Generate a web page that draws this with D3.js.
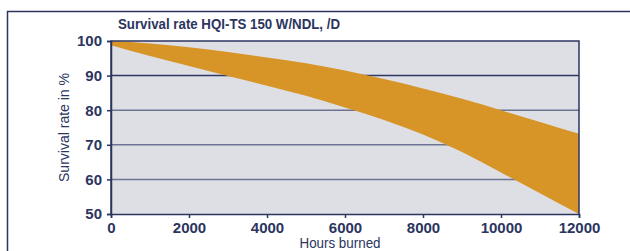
<!DOCTYPE html>
<html>
<head>
<meta charset="utf-8">
<script src="https://cdn.jsdelivr.net/npm/d3@7"></script>
<style>
  html, body { margin: 0; padding: 0; background: #fff; }
  svg { display: block; }
  text { font-family: "Liberation Sans Narrow", "Arial Narrow", "Liberation Sans", Arial, sans-serif; fill: #2b3560; }
</style>
</head>
<body>
<div id="chart"></div>
<script>
const title = 'Survival rate HQI-TS 150 W/NDL, /D';
const hours = [0, 1000, 2000, 3000, 4000, 5000, 6000, 7000, 8000, 9000, 10000, 11000, 12000];
const upper = [100, 99.3, 98.2, 96.8, 95.2, 93.6, 91.5, 89.0, 86.3, 83.3, 80.0, 76.6, 73.2];
const lower = [98.8, 95.7, 92.8, 89.9, 87.1, 84.2, 80.8, 77.2, 73.0, 67.9, 62.0, 56.0, 50.0];
const xTicks = [0, 2000, 4000, 6000, 8000, 10000, 12000];
const yTicks = [50, 60, 70, 80, 90, 100];

const W = 630, H = 251;
const M = { top: 41, right: 51, bottom: 37, left: 111 };
const iW = W - M.left - M.right, iH = H - M.top - M.bottom;
const navy = '#2b3560';

const svg = d3.select('#chart').append('svg').attr('width', W).attr('height', H);

// outer frame (runs off the right and bottom edges)
svg.append('path').attr('d', `M7.5,${H + 5}V11.5H${W + 5}`)
  .attr('fill', 'none').attr('stroke', navy).attr('stroke-width', 1.5);

const g = svg.append('g').attr('transform', `translate(${M.left},${M.top})`);
const x = d3.scaleLinear().domain([0, 12000]).range([0, iW]);
const y = d3.scaleLinear().domain([50, 100]).range([iH, 0]);

g.append('rect').attr('width', iW).attr('height', iH).attr('fill', '#dedfe5');

// gridlines
yTicks.filter(v => v > 50 && v < 100).forEach(v => {
  g.append('line').attr('x1', 0).attr('x2', iW).attr('y1', y(v)).attr('y2', y(v))
    .attr('stroke', v === 90 ? '#2e3862' : '#6f7492').attr('stroke-width', 1.5);
});

// band
const data = hours.map((h, i) => ({ h, u: upper[i], l: lower[i] }));
const area = d3.area().x(d => x(d.h)).y0(d => y(d.l)).y1(d => y(d.u)).curve(d3.curveMonotoneX);
g.append('path').datum(data).attr('d', area).attr('fill', '#d79427');

// plot frame
g.append('path').attr('d', `M0,${iH}V0H${iW}V${iH}`)
  .attr('fill', 'none').attr('stroke', navy).attr('stroke-width', 1.5);

// axes
const ax = g.append('g').attr('transform', `translate(0,${iH})`)
  .call(d3.axisBottom(x).tickValues(xTicks).tickSize(4).tickPadding(4).tickFormat(d3.format('d')));
const ay = g.append('g')
  .call(d3.axisLeft(y).tickValues(yTicks).tickSize(4).tickPadding(5));
[ax, ay].forEach(a => {
  a.select('.domain').attr('stroke', navy).attr('stroke-width', 1.5);
  a.selectAll('.tick line').attr('stroke', navy).attr('stroke-width', 1.5);
  a.selectAll('.tick text').attr('fill', navy)
    .style('font-size', '15px').style('font-weight', 'bold')
    .style('font-family', '"Liberation Sans Narrow", "Arial Narrow", Arial, sans-serif');
});

svg.append('text').attr('x', 118).attr('y', 29)
  .attr('textLength', 222).attr('lengthAdjust', 'spacingAndGlyphs')
  .style('font-size', '15px').style('font-weight', 'bold').text(title);

svg.append('text').attr('x', 340).attr('y', 248).attr('text-anchor', 'middle')
  .attr('textLength', 81).attr('lengthAdjust', 'spacingAndGlyphs')
  .style('font-size', '15px').text('Hours burned');

svg.append('text').attr('transform', 'rotate(-90)')
  .attr('x', -(M.top + iH / 2)).attr('y', 69).attr('text-anchor', 'middle')
  .attr('textLength', 109).attr('lengthAdjust', 'spacingAndGlyphs')
  .style('font-size', '15px').text('Survival rate in %');
</script>
</body>
</html>
